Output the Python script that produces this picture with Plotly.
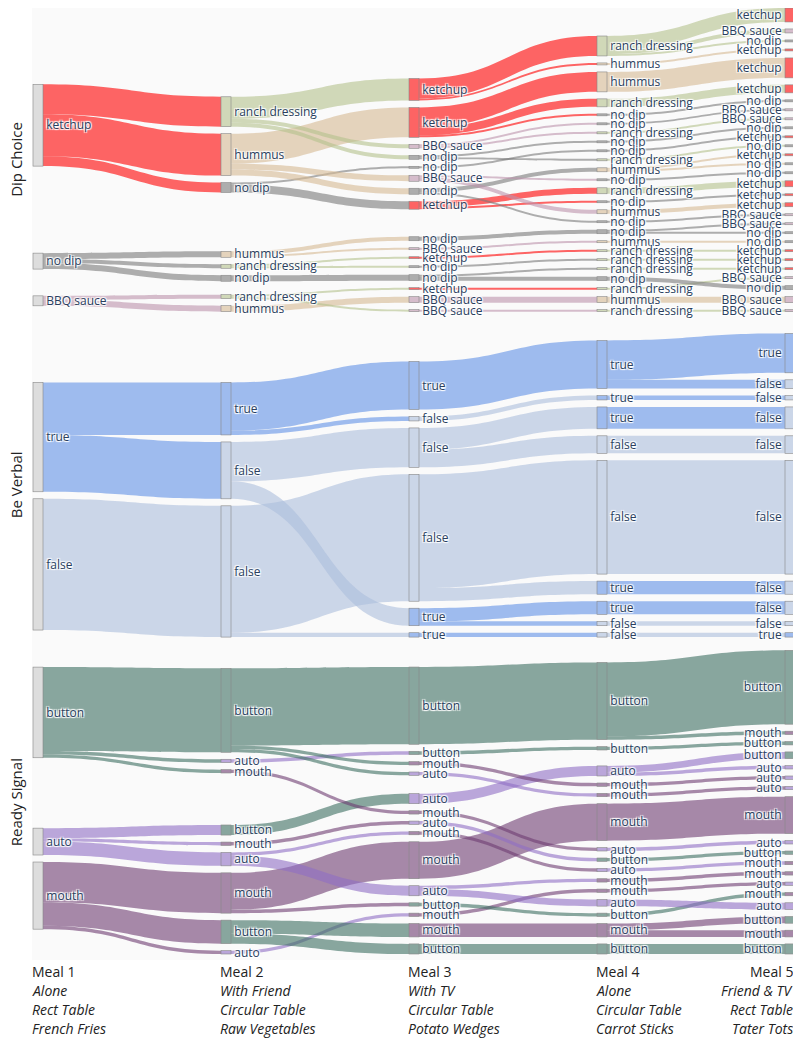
import plotly.graph_objects as go

# meal conditions shown under the columns
meals = ["Meal 1", "Meal 2", "Meal 3", "Meal 4", "Meal 5"]
company = ["Alone", "With Friend", "With TV", "Alone", "Friend & TV"]
tables = ["Rect Table", "Circular Table", "Circular Table", "Circular Table", "Rect Table"]
foods = ["French Fries", "Raw Vegetables", "Potato Wedges", "Carrot Sticks", "Tater Tots"]

row_titles = ["Dip Choice", "Be Verbal", "Ready Signal"]

# Each sankey is a tree: one code string per meal (top to bottom),
# parent index of every node in the previous meal, and kid counts at meal 5.
dip_names = {"K": "ketchup", "R": "ranch dressing", "H": "hummus", "N": "no dip", "B": "BBQ sauce"}
dip_codes = ["KNB", "RHNHRNRH", "KKBNNBNKNBKNNKBB",
             "RHHRNNRNNRHNRNHNNHRRRNRHR", "KBNKKKNBBNKNKNNKKKBBNNKKKBNBB"]
dip_parents = [[], [0, 0, 0, 1, 1, 1, 2, 2],
               [0, 1, 0, 0, 2, 1, 1, 2, 3, 3, 4, 4, 5, 6, 7, 6],
               [0, 0, 1, 1, 1, 2, 2, 3, 4, 3, 6, 5, 7, 7, 5, 6, 8, 9, 10, 11, 12, 12, 13, 14, 15],
               [0, 0, 0, 1, 2, 3, 4, 5, 6, 7, 8, 9, 10, 10, 11, 12, 13, 14, 15, 16, 16, 17, 18,
                19, 20, 22, 21, 23, 24]]
dip_counts = [7, 2, 1, 1, 10, 4, 1, 1, 1, 1, 1, 1, 1, 1, 1, 3, 1, 2, 1, 1, 1, 1, 1, 1, 1, 1, 2, 3, 1]
dip_colors = {"K": (255, 0, 0), "R": (180, 193, 140), "H": (213, 185, 147),
              "N": (122, 122, 122), "B": (188, 147, 172)}

verbal_names = {"T": "true", "F": "false"}
verbal_codes = ["TF", "TFF", "TFFFTT", "TTTFFTTFF", "TFFFFFFFFT"]
verbal_parents = [[], [0, 0, 1], [0, 0, 1, 2, 1, 2], [0, 1, 2, 2, 3, 3, 4, 4, 5],
                  [0, 0, 1, 2, 3, 4, 5, 6, 7, 8]]
verbal_counts = [9, 2, 1, 5, 4, 26, 3, 3, 1, 1]
verbal_colors = {"T": (97, 145, 230), "F": (172, 190, 220)}

ready_names = {"B": "button", "A": "auto", "M": "mouth"}
ready_codes = ["BAM", "BAMBMAMBA", "BBMAAMAMMABMMB", "BBAMMMABAMMABMB", "BMBBAAAMABMMAMABMB"]
ready_parents = [[], [0, 0, 0, 1, 1, 1, 2, 2, 2],
                 [0, 1, 0, 0, 3, 2, 4, 5, 6, 5, 6, 8, 7, 7],
                 [0, 1, 4, 2, 3, 8, 5, 6, 7, 9, 11, 9, 10, 12, 13],
                 [0, 0, 1, 2, 2, 3, 4, 5, 6, 7, 8, 9, 10, 12, 11, 13, 13, 14]]
ready_counts = [22, 1, 1, 2, 1, 1, 1, 11, 1, 1, 1, 1, 1, 1, 2, 2, 2, 3]
ready_colors = {"B": (60, 110, 97), "A": (143, 110, 197), "M": (110, 60, 113)}

FIG_W, FIG_H = 793, 1036
MARGIN = dict(l=25, r=6, t=0, b=90)
PLOT_W = FIG_W - MARGIN["l"] - MARGIN["r"]
PLOT_H = FIG_H - MARGIN["t"] - MARGIN["b"]
PAD, THICK = 7, 10


def rgba(c, a=0.6):
    return "rgba(%d,%d,%d,%s)" % (c[0], c[1], c[2], a)


def make_sankey(codes, parents, counts, names, colors, domain_y):
    H = (domain_y[1] - domain_y[0]) * PLOT_H
    ncol = len(codes)
    # node values: leaves given, parents summed from children
    size = [None] * ncol
    size[-1] = list(counts)
    for c in range(ncol - 2, -1, -1):
        s = [0] * len(codes[c])
        for p, v in zip(parents[c + 1], size[c + 1]):
            s[p] += v
        size[c] = s
    children = [[[] for _ in codes[c]] for c in range(ncol)]
    for c in range(1, ncol):
        for i, p in enumerate(parents[c]):
            children[c - 1][p].append(i)

    # same vertical relaxation as d3-sankey, keeping the node order of each column
    ky = min((H - (len(codes[c]) - 1) * PAD) / sum(size[c]) for c in range(ncol))
    h = [[v * ky for v in size[c]] for c in range(ncol)]
    top = []
    for c in range(ncol):
        t, col = 0, []
        for hh in h[c]:
            col.append(t)
            t += hh + PAD
        top.append(col)

    def mid(c, i):
        return top[c][i] + h[c][i] / 2

    def resolve(c):
        y = 0
        for i in range(len(top[c])):
            if top[c][i] < y:
                top[c][i] = y
            y = top[c][i] + h[c][i] + PAD
        if y - PAD > H:
            y = H
            for i in reversed(range(len(top[c]))):
                over = top[c][i] + h[c][i] - y
                if over > 0:
                    top[c][i] -= over
                y = top[c][i] - PAD

    alpha = 1.0
    for _ in range(50):
        alpha *= 0.99
        for c in range(ncol - 2, -1, -1):
            for i, kids in enumerate(children[c]):
                target = sum(mid(c + 1, k) * size[c + 1][k] for k in kids) / size[c][i]
                top[c][i] += (target - mid(c, i)) * alpha
        for c in range(ncol):
            resolve(c)
        for c in range(1, ncol):
            for i, p in enumerate(parents[c]):
                top[c][i] += (mid(c - 1, p) - mid(c, i)) * alpha
        for c in range(ncol):
            resolve(c)

    idx, labels, node_colors, xs, ys = {}, [], [], [], []
    for c in range(ncol):
        for i, code in enumerate(codes[c]):
            idx[(c, i)] = len(labels)
            labels.append(names[code])
            node_colors.append("#dddddd" if c == 0 else rgba(colors[code]))
            xs.append((c * (PLOT_W - THICK) / (ncol - 1) + THICK / 2) / PLOT_W)
            ys.append(mid(c, i) / H)
    src, tgt, val, lcol = [], [], [], []
    for c in range(1, ncol):
        for i, p in enumerate(parents[c]):
            src.append(idx[(c - 1, p)])
            tgt.append(idx[(c, i)])
            val.append(size[c][i])
            lcol.append(rgba(colors[codes[c - 1][p]]))

    return go.Sankey(
        domain=dict(x=[0, 1], y=domain_y),
        arrangement="fixed",
        node=dict(label=labels, color=node_colors, x=xs, y=ys, pad=PAD, thickness=THICK,
                  line=dict(color="#888", width=0.6)),
        link=dict(source=src, target=tgt, value=val, color=lcol),
        textfont=dict(family="Open Sans", size=12, color="#2a3f5f"),
    )


domains = [[0.679, 1.0], [0.335, 0.656], [0.0, 0.321]]
fig = go.Figure([
    make_sankey(dip_codes, dip_parents, dip_counts, dip_names, dip_colors, domains[0]),
    make_sankey(verbal_codes, verbal_parents, verbal_counts, verbal_names, verbal_colors, domains[1]),
    make_sankey(ready_codes, ready_parents, ready_counts, ready_names, ready_colors, domains[2]),
])

# faint panel behind the diagrams
fig.add_shape(type="rect", xref="paper", yref="paper", x0=-1 / PLOT_W, x1=1, y0=-6 / PLOT_H, y1=1,
              fillcolor="#fafafa", line=dict(width=0), layer="below")

for t, d in zip(row_titles, domains):
    fig.add_annotation(text=t, x=-17 / PLOT_W, y=(d[0] + d[1]) / 2, xref="paper", yref="paper",
                       textangle=-90, showarrow=False, xanchor="center", yanchor="middle",
                       borderpad=0,
                       font=dict(family="Open Sans", size=15, color="#222"))

col_step = (PLOT_W - THICK) / 4 / PLOT_W
line_px = 19
for i in range(5):
    lines = [meals[i], "<i>%s</i>" % company[i], "<i>%s</i>" % tables[i], "<i>%s</i>" % foods[i]]
    last = i == 4
    for j, txt in enumerate(lines):
        fig.add_annotation(text=txt, x=1.0 if last else i * col_step,
                           y=-(17 + j * line_px) / PLOT_H,
                           xref="paper", yref="paper", showarrow=False,
                           xanchor="right" if last else "left", yanchor="middle",
                           xshift=0 if last else -3,
                           font=dict(family="Open Sans", size=14, color="#222"))

fig.update_layout(width=FIG_W, height=FIG_H, margin=MARGIN,
                  paper_bgcolor="white", font=dict(family="Open Sans"))

fig.write_html("out.html")
